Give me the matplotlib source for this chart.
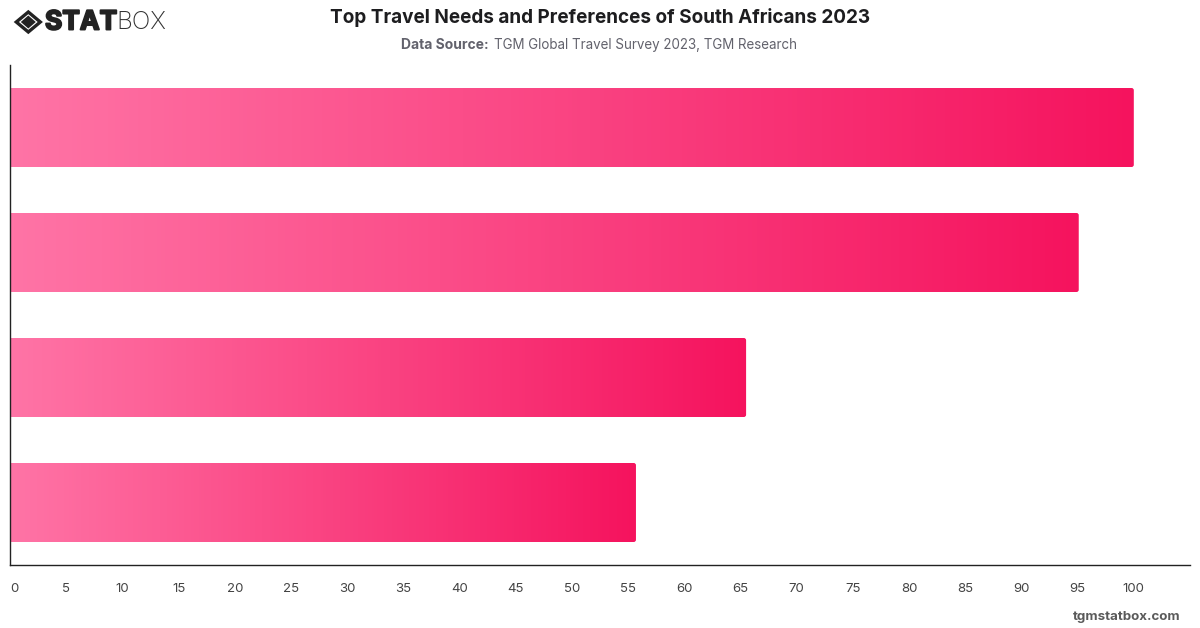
import matplotlib
matplotlib.use("Agg")
import matplotlib.pyplot as plt
import matplotlib.patheffects as pe
import numpy as np
from matplotlib.colors import LinearSegmentedColormap
from matplotlib.patches import FancyBboxPatch, Polygon

plt.rcParams['font.family'] = ['Inter', 'Liberation Sans', 'DejaVu Sans']

title = "Top Travel Needs and Preferences of South Africans 2023"
values = [100, 95.1, 65.5, 55.7]
x_ticks = list(range(0, 105, 5))

W, H = 1200, 628
fig = plt.figure(figsize=(W / 100, H / 100), dpi=100, facecolor='white')
ax = fig.add_axes([10 / W, 1 - 565 / H, 1180 / W, 500 / H])

pink = LinearSegmentedColormap.from_list("pink", ["#ff74a6", "#f5135e"])
gradient = np.linspace(0, 1, 1024).reshape(1, -1)

bar_height = 79 / 125
positions = np.arange(len(values))

# horizontal gradient per bar, clipped to a box with slightly rounded ends
aspect = (1180 / 105) / (500 / len(values))
for pos, val in zip(positions, values):
    box = FancyBboxPatch((-1, pos - bar_height / 2), val + 1, bar_height,
                         boxstyle="round,pad=0,rounding_size=0.2",
                         mutation_aspect=aspect,
                         linewidth=0, facecolor='none', transform=ax.transData)
    ax.add_patch(box)
    # image runs a little past the box so the clip sets the visible edge
    img = ax.imshow(gradient, extent=(0, val + 1, pos + bar_height / 2 + 0.02, pos - bar_height / 2 - 0.02),
                    cmap=pink, aspect='auto', interpolation='nearest', zorder=1,
                    vmin=0, vmax=val / (val + 1))
    img.set_clip_path(box)
ax.set_xlim(0, 105)
ax.set_ylim(len(values) - 0.5, -0.5)

for side in ['top', 'right']:
    ax.spines[side].set_visible(False)
for side in ['left', 'bottom']:
    ax.spines[side].set_color('#222222')
    ax.spines[side].set_linewidth(1)
    ax.spines[side].set_zorder(5)

ax.set_yticks([])
ax.set_xticks(x_ticks)
ax.set_xticklabels([str(t) for t in x_ticks], fontsize=9.5, color='#444444')
ax.tick_params(axis='x', length=0, pad=13)
ax.get_xticklabels()[0].set_ha('left')

fig.text(600 / W, 1 - 17.5 / H, title, ha='center', va='center', fontsize=13.65,
         fontweight='bold', color='#1d1d1f')
fig.text(401 / W, 1 - 45 / H, "Data Source:", ha='left', va='center',
         fontsize=10, fontweight='bold', color='#62626c')
fig.text(494 / W, 1 - 45 / H, "TGM Global Travel Survey 2023, TGM Research", ha='left',
         va='center', fontsize=9.65, color='#62626c')
fig.text(1180.5 / W, 1 - 617 / H, "tgmstatbox.com", ha='right', va='center', fontsize=9.6,
         fontweight='bold', color='#5a5a5a')

# wordmark and diamond emblem
overlay = fig.add_axes([0, 0, 1, 1], facecolor='none')
overlay.set_xlim(0, W)
overlay.set_ylim(H, 0)
overlay.axis('off')
cx, cy = 28.3, 22
overlay.add_patch(Polygon([(cx - 12, cy), (cx, cy - 10), (cx + 12, cy), (cx, cy + 10)],
                          closed=True, facecolor='none', edgecolor='#222222', linewidth=2.4))
overlay.add_patch(Polygon([(cx - 7.5, cy), (cx, cy - 6.5), (cx + 7.5, cy), (cx, cy + 6.5)],
                          closed=True, facecolor='#222222', edgecolor='none'))
overlay.text(45, 22.5, "STAT", ha='left', va='center', fontsize=19, fontweight='bold',
             color='#222222', path_effects=[pe.withStroke(linewidth=1.4, foreground='#222222')])
overlay.text(116.5, 22.5, "BOX", ha='left', va='center', fontsize=17.6, fontweight='light',
             color='#333333')

fig.savefig("out.png", dpi=100, facecolor='white')
